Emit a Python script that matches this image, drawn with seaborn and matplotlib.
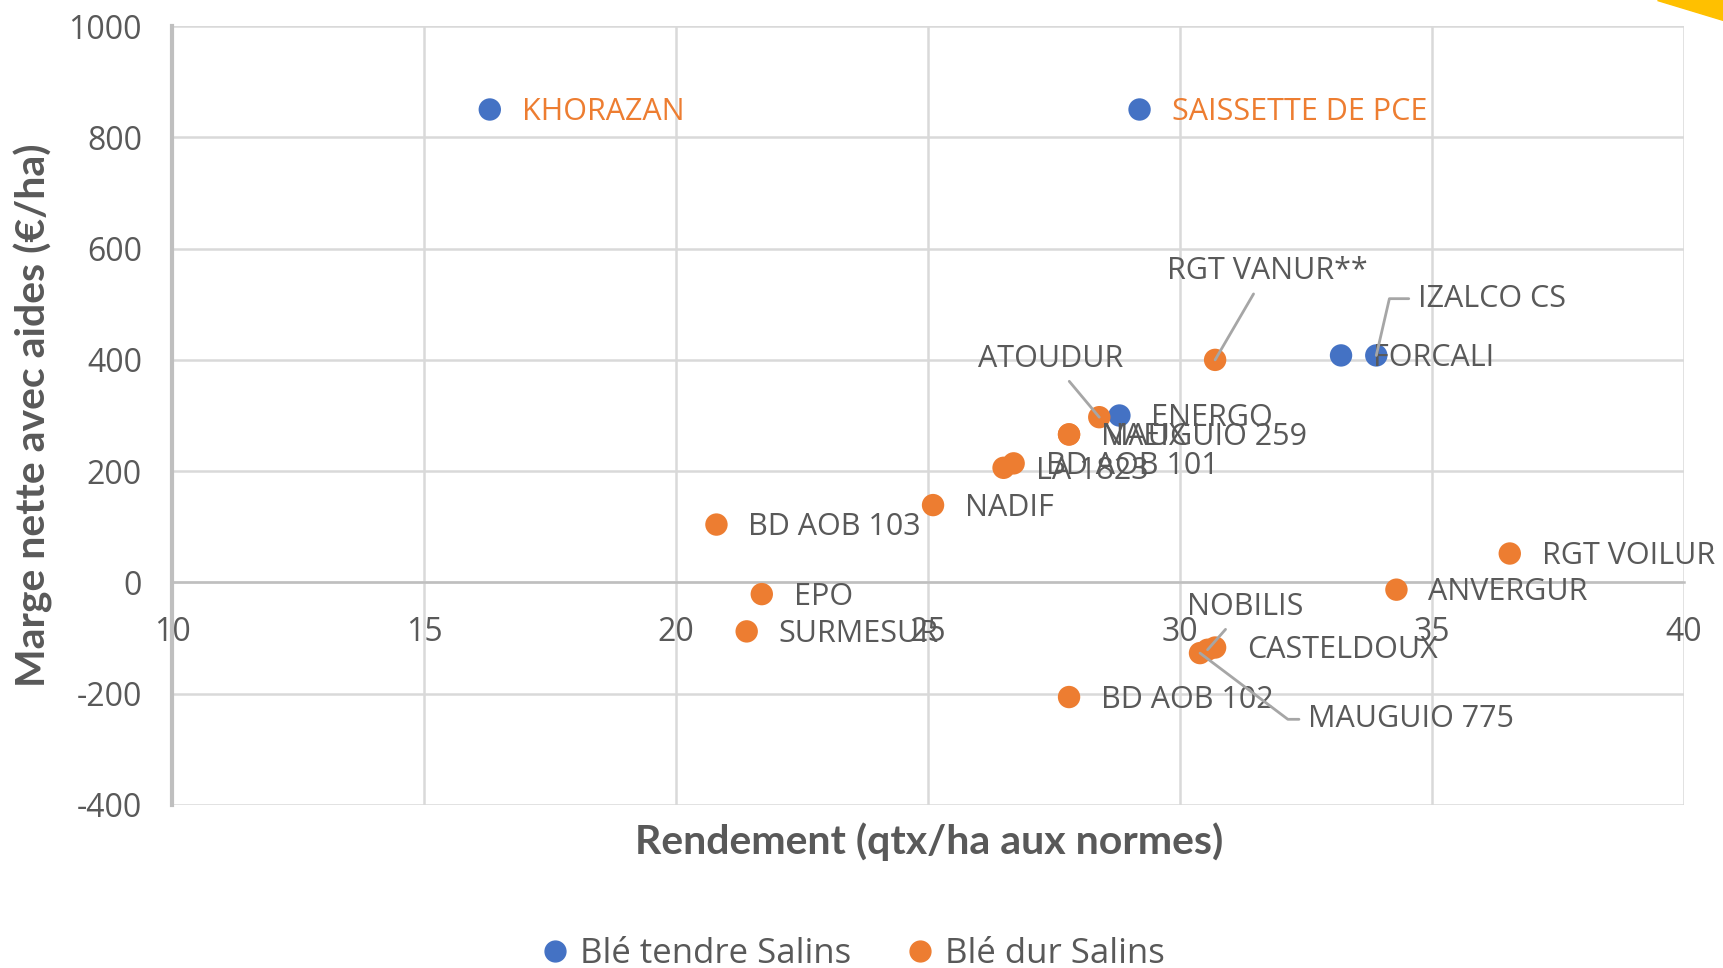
import pandas as pd
import matplotlib
matplotlib.use("Agg")
from matplotlib import pyplot as plt
from matplotlib.patches import Polygon
import seaborn as sns

# Données

noms_tendre = ["KHORAZAN", "SAISSETTE DE PCE", "ENERGO", "FORCALI", "IZALCO CS"]
rdt_tendre = [16.3, 29.2, 28.8, 33.2, 33.9]
marge_tendre = [850, 850, 300, 408, 408]

noms_dur = ["RGT VANUR**", "ATOUDUR", "MAUGUIO 259", "NAEIX", "BD AOB 101", "LA 1823",
            "NADIF", "BD AOB 103", "EPO", "SURMESUR", "BD AOB 102", "MAUGUIO 775",
            "NOBILIS", "CASTELDOUX", "ANVERGUR", "RGT VOILUR"]
rdt_dur = [30.7, 28.4, 27.8, 27.8, 26.7, 26.5, 25.1, 20.8, 21.7, 21.4, 27.8, 30.4,
           30.55, 30.7, 34.3, 36.55]
marge_dur = [400, 297, 266, 266, 214, 206, 139, 104, -21, -88, -206, -127, -121, -117,
             -13, 52]

series = ["Blé tendre Salins", "Blé dur Salins"]

df = pd.DataFrame({
    "nom": noms_tendre + noms_dur,
    "rdt": rdt_tendre + rdt_dur,
    "marge": marge_tendre + marge_dur,
    "serie": [series[0]] * len(noms_tendre) + [series[1]] * len(noms_dur),
})

# Style

sns.set_style("white")
plt.rcParams['font.family'] = ['Open Sans', 'DejaVu Sans']
plt.rcParams['axes.unicode_minus'] = False
gris = "#595959"
bleu = "#4472C4"
orange = "#ED7D31"

fig = plt.figure(figsize=(17.23, 9.68), dpi=100)
ax = fig.add_axes([0.1001, 0.1684, 0.877, 0.8047])

sns.scatterplot(data=df, x="rdt", y="marge", hue="serie", hue_order=series,
                palette=[bleu, orange], s=260, edgecolor="none", ax=ax, zorder=3,
                legend=False)

ax.set_xlim(10, 40)
ax.set_ylim(-400, 1000)
ax.set_xticks(range(10, 41, 5))
ax.set_yticks(range(-400, 1001, 200))
ax.grid(True, color="#D9D9D9", lw=1.8, zorder=0)
ax.set_axisbelow(True)

for s in ["top", "right"]:
    ax.spines[s].set_visible(False)
ax.spines["bottom"].set_position(("data", 0))
ax.spines["bottom"].set_color("#BFBFBF")
ax.spines["bottom"].set_linewidth(1.8)
ax.spines["left"].set_color("#BFBFBF")
ax.spines["left"].set_linewidth(3)

ax.tick_params(axis="x", length=0, pad=24, labelsize=23, labelcolor=gris)
ax.tick_params(axis="y", length=0, pad=22, labelsize=23, labelcolor=gris)

# Titres des axes

ax.set_xlabel("Rendement (qtx/ha aux normes)", fontsize=29.5, fontweight="bold",
              color=gris, family=['Lato', 'DejaVu Sans'])
ax.set_ylabel("Marge nette avec aides (€/ha)", fontsize=29.5, fontweight="bold",
              color=gris, family=['Lato', 'DejaVu Sans'])
ax.xaxis.set_label_coords(0.5007, -0.022)
ax.yaxis.set_label_coords(-0.079, 0.5)

# Étiquettes des points

etiq_orange = ["KHORAZAN", "SAISSETTE DE PCE"]
# étiquettes déplacées avec trait de rappel : (x, y, alignement, connexion)
rappel = {
    "RGT VANUR**": (31.73, 560, "center", "arc3"),
    "IZALCO CS": (34.72, 510, "left", "angle,angleA=0,angleB=77,rad=0"),
    "ATOUDUR": (27.43, 402, "center", "arc3"),
    "NOBILIS": (31.3, -44, "center", "arc3"),
    "MAUGUIO 775": (32.54, -246, "left", "angle,angleA=0,angleB=-37,rad=0"),
}

for nom, x, y in zip(df["nom"], df["rdt"], df["marge"]):
    couleur = orange if nom in etiq_orange else gris
    if nom in rappel:
        tx, ty, ha, conn = rappel[nom]
        ax.annotate(nom, xy=(x, y), xytext=(tx, ty), ha=ha, va="center",
                    fontsize=22, color=couleur, zorder=4,
                    arrowprops=dict(arrowstyle="-", color="#A6A6A6", lw=2,
                                    connectionstyle=conn, shrinkA=4, shrinkB=0))
    else:
        ax.annotate(nom, xy=(x, y), xytext=(23, -2), textcoords="offset points",
                    ha="left", va="center", fontsize=22, color=couleur, zorder=4)

# Légende

poignees = [plt.Line2D([], [], marker="o", ls="", color=c, markersize=15)
            for c in [bleu, orange]]
fig.legend(poignees, series, loc="center", bbox_to_anchor=(0.495, 0.014), ncol=2,
           frameon=False, fontsize=25, labelcolor=gris, handlelength=0.8,
           handletextpad=0.3, columnspacing=1.6)

# Coin jaune en haut à droite
fig.patches.append(Polygon([(0.9617, 1), (1, 1), (1, 0.979)], closed=True,
                           transform=fig.transFigure, color="#FFC000"))

plt.savefig("out.png", dpi=100)
